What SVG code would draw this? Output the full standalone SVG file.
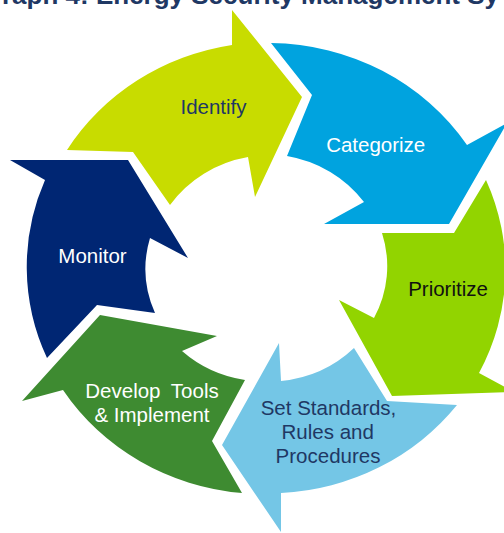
<svg xmlns="http://www.w3.org/2000/svg" width="504" height="533" viewBox="0 0 504 533">
  <style>
    .lbl { font-family: "Liberation Sans", Arial, sans-serif; font-size: 20.5px; text-anchor: middle; }
    .title { font-family: "Liberation Sans", Arial, sans-serif; font-size: 26px; font-weight: bold; fill: #1F3864; }
    .w { fill: #FFFFFF; }
    .n { fill: #1F3864; }
    .k { fill: #111111; }
  </style>
  <rect width="504" height="533" fill="#FFFFFF"/>
  <text class="title" x="2" y="4">raph 4: Energy Security Management Sy</text>

  <g id="identify">
    <path d="M 67,150 A 238 226 0 0 1 232,45 L 232,10 L 302,97 L 255,197 L 248,157 A 121 114 0 0 0 170,205 L 133,152 Z" fill="#C8DC00"/>
    <text class="lbl n" x="213.5" y="114">Identify</text>
  </g>

  <g id="categorize">
    <path d="M 271,43 A 238 226 0 0 1 467,145 L 507,123 L 449,224 L 324,224 L 364,202 A 121 114 0 0 0 287,156 L 312,95 Z" fill="#00A3DF"/>
    <text class="lbl w" x="375.7" y="152">Categorize</text>
  </g>

  <g id="prioritize">
    <path d="M 486,180 A 238 226 0 0 1 479,373 L 514,392 L 392,396 L 339,300 L 374,318 A 121 114 0 0 0 382,233 L 454,233 Z" fill="#92D400"/>
    <text class="lbl k" x="448" y="296">Prioritize</text>
  </g>

  <g id="set-standards">
    <path d="M 457,405 A 238 226 0 0 1 281,493 L 281,532 L 222,445 L 279,343 L 281,381 A 121 114 0 0 0 354,348 L 387,401 Z" fill="#74C6E6"/>
    <text class="lbl n" x="328.5" y="415">Set Standards,</text>
    <text class="lbl n" x="327.7" y="439">Rules and</text>
    <text class="lbl n" x="328" y="463">Procedures</text>
  </g>

  <g id="develop-tools">
    <path d="M 242,493 A 238 226 0 0 1 63,390 L 22,401 L 100,315 L 217,336 L 182,351 A 121 114 0 0 0 245,380 L 212,441 Z" fill="#3E8B31"/>
    <text class="lbl w" x="152" y="398" word-spacing="5">Develop Tools</text>
    <text class="lbl w" x="152" y="422">&amp; Implement</text>
  </g>

  <g id="monitor">
    <path d="M 47,358 A 238 226 0 0 1 45,180 L 10,160 L 128,160 L 188,258 L 150,238 A 121 114 0 0 0 155,313 L 97,305 Z" fill="#002673"/>
    <text class="lbl w" x="92.5" y="263">Monitor</text>
  </g>

  <g id="connectors"/>
</svg>
